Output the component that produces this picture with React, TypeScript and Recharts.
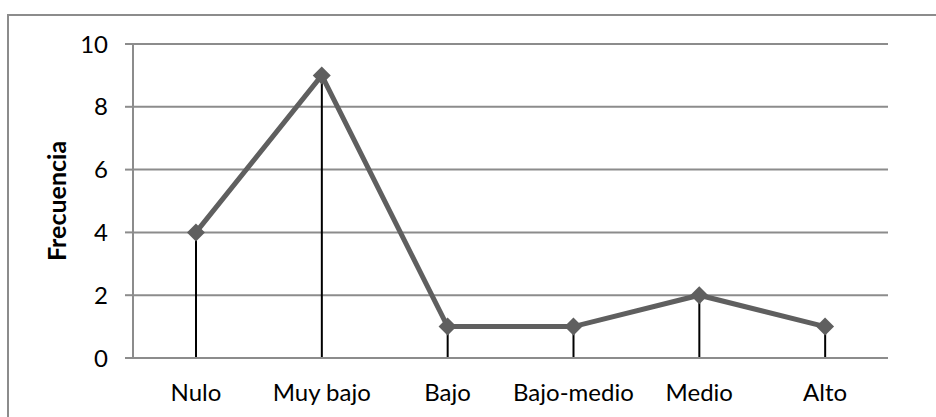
import { Bar, CartesianGrid, ComposedChart, Line, XAxis, YAxis } from "recharts";

const categories = ["Nulo", "Muy bajo", "Bajo", "Bajo-medio", "Medio", "Alto"];
const frecuencia = [4, 9, 1, 1, 2, 1];
const yTicks = [0, 2, 4, 6, 8, 10];

const chartData = categories.map((name, i) => ({
  name,
  frecuencia: frecuencia[i],
}));

const GRID = "#8c8c8c";
const LINE = "#5f5f5f";
const FONT = "Lato, 'Open Sans', sans-serif";

function Diamond(props: any) {
  const { cx, cy } = props;
  if (cx == null || cy == null) return null;
  const r = 9;
  return (
    <path
      d={`M${cx},${cy - r} L${cx + r},${cy} L${cx},${cy + r} L${cx - r},${cy} Z`}
      fill={LINE}
    />
  );
}

export default function App() {
  return (
    <div
      style={{
        position: "absolute",
        left: 0,
        top: 0,
        width: 936,
        height: 417,
        overflow: "hidden",
        background: "#fff",
      }}
    >
      <div
        style={{
          position: "absolute",
          left: 7,
          top: 14,
          width: 960,
          height: 440,
          border: "2px solid #8c8c8c",
        }}
      />
      <ComposedChart
        width={936}
        height={417}
        data={chartData}
        margin={{ top: 44, right: 48, bottom: 0, left: 53 }}
        style={{ position: "absolute", left: 0, top: 0, fontFamily: FONT }}
      >
        <CartesianGrid vertical={false} stroke={GRID} strokeWidth={2} />
        <XAxis
          dataKey="name"
          height={59}
          tickLine={false}
          axisLine={{ stroke: GRID, strokeWidth: 2 }}
          tickMargin={20}
          tick={{ fill: "#000", fontSize: 24 }}
          interval={0}
        />
        <YAxis
          width={80}
          domain={[0, 10]}
          ticks={yTicks}
          tickSize={8}
          tickMargin={17}
          tickLine={{ stroke: GRID, strokeWidth: 2 }}
          axisLine={{ stroke: GRID, strokeWidth: 2 }}
          tick={{ fill: "#000", fontSize: 24 }}
          label={{
            value: "Frecuencia",
            angle: -90,
            position: "insideLeft",
            offset: 4,
            style: { fontWeight: "bold", fontSize: 25, fill: "#000", textAnchor: "middle" },
          }}
        />
        <Bar
          dataKey="frecuencia"
          barSize={2}
          fill="#000"
          isAnimationActive={false}
        />
        <Line
          dataKey="frecuencia"
          stroke={LINE}
          strokeWidth={5}
          dot={<Diamond />}
          activeDot={false}
          isAnimationActive={false}
        />
      </ComposedChart>
    </div>
  );
}
